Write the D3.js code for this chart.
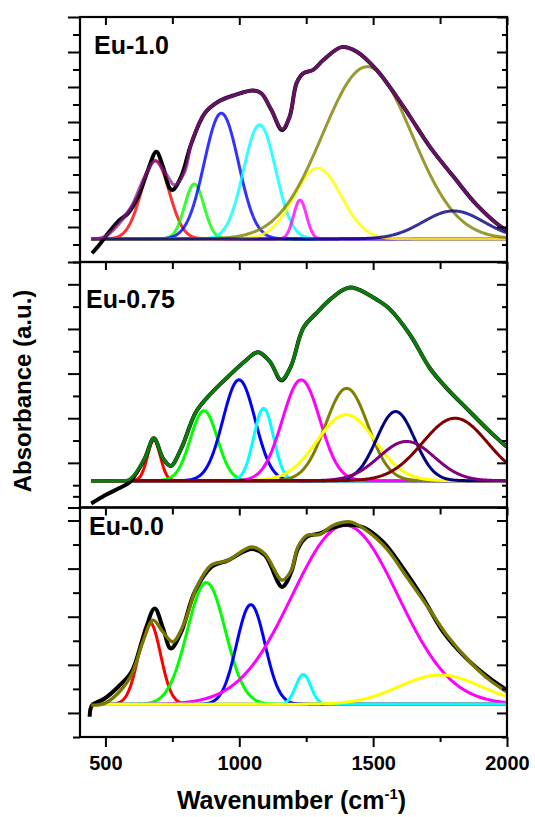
<!DOCTYPE html>
<html>
<head>
<meta charset="utf-8">
<script src="https://cdn.jsdelivr.net/npm/d3@7"></script>
<style>
  html, body { margin: 0; padding: 0; background: #ffffff; }
  svg { display: block; font-family: "Liberation Sans", Arial, Helvetica, sans-serif; }
</style>
</head>
<body>
<svg id="chart" width="535" height="817"></svg>
<script>
// ---------- shared x axis ----------
const wavenumberRange = [405, 2000];
const xMajorTicks = [500, 1000, 1500, 2000];
const xMinorTicks = [750, 1250, 1750];
const sampleLabels = ["Eu-1.0", "Eu-0.75", "Eu-0.0"];
const xTitle = "Wavenumber (cm";
const xTitleSup = "-1";
const yTitle = "Absorbance (a.u.)";

// ---------- Eu-1.0 ----------
const spectrumEu10 = [
  [450, 0.25], [472, 0.44], [510, 0.82], [553, 1.20], [584, 1.39], [622, 1.87],
  [659, 2.63], [690, 3.15], [715, 2.72], [740, 2.11], [752, 2.06], [783, 2.44],
  [821, 3.39], [871, 4.25], [921, 4.58], [983, 4.77], [1051, 4.90], [1082, 4.82],
  [1120, 4.34], [1160, 3.77], [1188, 4.15], [1214, 5.11], [1239, 5.39], [1276, 5.49],
  [1314, 5.77], [1382, 6.14], [1439, 6.01], [1513, 5.49], [1588, 4.72], [1638, 4.15],
  [1712, 3.29], [1800, 2.44], [1887, 1.63], [1986, 0.96], [2000, 0.91]
];
const fitEu10 = [
  [447, 0.66], [497, 0.72], [547, 1.06], [597, 1.58], [647, 2.44], [686, 2.89],
  [721, 2.58], [759, 2.20], [796, 2.58], [821, 3.39], [871, 4.25], [921, 4.58],
  [983, 4.77], [1051, 4.90], [1082, 4.82], [1120, 4.34], [1160, 3.80], [1188, 4.15],
  [1214, 5.11], [1239, 5.39], [1276, 5.49], [1314, 5.77], [1382, 6.14], [1439, 6.01],
  [1513, 5.49], [1588, 4.72], [1638, 4.15], [1712, 3.29], [1800, 2.44], [1887, 1.63],
  [1986, 0.96], [2000, 0.91]
];
const baselineEu10 = 0.66;
const peakCentresEu10 = [686, 832, 933, 1076, 1227, 1293, 1478, 1800];
const peakHeightsEu10 = [2.24, 1.57, 3.59, 3.26, 1.11, 2.02, 4.92, 0.80];
const peakSigmasEu10  = [52, 36, 64, 60, 24, 88, 167, 114];
const yDomainEu10 = [0, 7];
const yMajorEu10 = [0, 1, 2, 3, 4, 5, 6, 7];
const yMinorEu10 = [0.5, 1.5, 2.5, 3.5, 4.5, 5.5, 6.5];

// ---------- Eu-0.75 ----------
const spectrumEu075 = [
  [447, 0.09], [497, 0.27], [547, 0.42], [591, 0.57], [647, 1.10], [681, 1.55],
  [715, 1.10], [744, 0.93], [783, 1.32], [839, 2.15], [895, 2.56], [958, 2.93],
  [1020, 3.27], [1070, 3.48], [1114, 3.27], [1157, 2.85], [1192, 3.15], [1239, 4.02],
  [1289, 4.36], [1339, 4.66], [1389, 4.88], [1414, 4.93], [1439, 4.90], [1513, 4.66],
  [1563, 4.44], [1638, 3.87], [1712, 3.12], [1775, 2.67], [1849, 2.22], [1936, 1.70],
  [1999, 1.36]
];
const fitEu075 = [
  [447, 0.60], [540, 0.60], [590, 0.63], [647, 1.10], [681, 1.55], [715, 1.10],
  [744, 0.93], [783, 1.32], [839, 2.15], [895, 2.56], [958, 2.93], [1020, 3.27],
  [1070, 3.48], [1114, 3.27], [1157, 2.86], [1192, 3.15], [1239, 4.02], [1289, 4.36],
  [1339, 4.66], [1389, 4.88], [1414, 4.93], [1439, 4.90], [1513, 4.66], [1563, 4.44],
  [1638, 3.87], [1712, 3.12], [1775, 2.67], [1849, 2.22], [1936, 1.70], [1999, 1.36]
];
const baselineEu075 = 0.60;
const peakCentresEu075 = [681, 868, 999, 1091, 1231, 1401, 1399, 1584, 1625, 1806];
const peakHeightsEu075 = [0.91, 1.57, 2.26, 1.62, 2.26, 2.07, 1.48, 1.55, 0.88, 1.40];
const peakSigmasEu075  = [24, 50, 60, 37, 70, 79, 108, 71, 103, 122];
const yDomainEu075 = [0, 5.5];
const yMajorEu075 = [0, 1, 2, 3, 4, 5];
const yMinorEu075 = [0.25, 0.5, 1.5, 2.5, 3.5, 4.5, 5.5];

// ---------- Eu-0.0 ----------
const spectrumEu00 = [
  [441, 0.42], [450, 0.66], [497, 0.80], [547, 1.04], [597, 1.35], [640, 2.05],
  [684, 2.67], [715, 2.26], [744, 1.84], [783, 2.18], [833, 3.01], [895, 3.53],
  [958, 3.67], [1045, 3.91], [1095, 3.78], [1160, 3.12], [1194, 3.43], [1219, 3.91],
  [1252, 4.16], [1301, 4.23], [1339, 4.33], [1401, 4.41], [1463, 4.36], [1538, 4.05],
  [1613, 3.50], [1687, 2.88], [1762, 2.18], [1849, 1.63], [1936, 1.22], [1999, 0.98]
];
const fitEu00 = [
  [447, 0.66], [497, 0.70], [547, 0.91], [597, 1.29], [640, 1.98], [678, 2.43],
  [715, 2.18], [752, 1.98], [796, 2.39], [839, 3.09], [895, 3.57], [958, 3.67],
  [1045, 3.95], [1095, 3.81], [1160, 3.26], [1194, 3.46], [1219, 3.95], [1252, 4.19],
  [1301, 4.21], [1351, 4.40], [1414, 4.47], [1476, 4.29], [1551, 3.91], [1625, 3.33],
  [1700, 2.74], [1775, 2.12], [1862, 1.56], [1936, 1.18], [1999, 0.94]
];
const baselineEu00 = 0.68;
const peakCentresEu00 = [665, 877, 1043, 1395, 1239, 1750];
const peakHeightsEu00 = [1.71, 2.53, 2.07, 3.72, 0.62, 0.61];
const peakSigmasEu00  = [41, 71, 53, 198, 28, 153];
const yDomainEu00 = [0, 4.77];
const yMajorEu00 = [0.5, 1.5, 2.5, 3.5, 4.5];
const yMinorEu00 = [0, 1, 2, 3, 4];

// ---------- styles ----------
const peakColoursEu10  = ["#ff0000", "#00ff00", "#0000ff", "#00ffff", "#ff00ff", "#ffff00", "#808000", "#000080"];
const peakColoursEu075 = ["#ff0000", "#00ff00", "#0000ff", "#00ffff", "#ff00ff", "#808000", "#ffff00", "#000080", "#800080", "#800000"];
const peakColoursEu00  = ["#ff0000", "#00ff00", "#0000ff", "#ff00ff", "#00ffff", "#ffff00"];

const panels = [
  { label: sampleLabels[0], spectrum: spectrumEu10, fit: fitEu10, base: baselineEu10,
    centres: peakCentresEu10, heights: peakHeightsEu10, sigmas: peakSigmasEu10, colours: peakColoursEu10,
    yDomain: yDomainEu10, yMajor: yMajorEu10, yMinor: yMinorEu10,
    top: 17, bottom: 262, labelX: 94, labelY: 54,
    peakOpacity: 0.8, fitColour: "#8b1a8b", fitOpacity: 0.72 },
  { label: sampleLabels[1], spectrum: spectrumEu075, fit: fitEu075, base: baselineEu075,
    centres: peakCentresEu075, heights: peakHeightsEu075, sigmas: peakSigmasEu075, colours: peakColoursEu075,
    yDomain: yDomainEu075, yMajor: yMajorEu075, yMinor: yMinorEu075,
    top: 262, bottom: 507.5, labelX: 86, labelY: 308,
    peakOpacity: 1, fitColour: "#0d7a0d", fitOpacity: 1 },
  { label: sampleLabels[2], spectrum: spectrumEu00, fit: fitEu00, base: baselineEu00,
    centres: peakCentresEu00, heights: peakHeightsEu00, sigmas: peakSigmasEu00, colours: peakColoursEu00,
    yDomain: yDomainEu00, yMajor: yMajorEu00, yMinor: yMinorEu00,
    top: 507.5, bottom: 737, labelX: 89, labelY: 535,
    peakOpacity: 1, fitColour: "#787800", fitOpacity: 1 }
];

// ---------- drawing ----------
const svg = d3.select("#chart");
const left = 80, right = 507;
const x = d3.scaleLinear().domain(wavenumberRange).range([left, right]);
const sampleGrid = d3.range(447, 2001, 3);

function gaussianPeak(c, h, s, base) {
  return sampleGrid.map(w => [w, base + h * Math.exp(-0.5 * ((w - c) / s) ** 2)]);
}

function styleAxis(g) {
  g.select(".domain").remove();
  g.selectAll(".tick line").attr("stroke", "#000").attr("stroke-width", 2);
}

panels.forEach((p, i) => {
  const y = d3.scaleLinear().domain(p.yDomain).range([p.bottom, p.top]);
  const line = d3.line().x(d => x(d[0])).y(d => y(d[1]));
  const smooth = d3.line().x(d => x(d[0])).y(d => y(d[1])).curve(d3.curveCatmullRom.alpha(0.5));

  const clipId = "clip" + i;
  svg.append("clipPath").attr("id", clipId)
    .append("rect").attr("x", left).attr("y", p.top).attr("width", right - left).attr("height", p.bottom - p.top);

  const g = svg.append("g").attr("clip-path", `url(#${clipId})`);

  // fitted component peaks
  p.centres.forEach((c, k) => {
    g.append("path")
      .attr("d", line(gaussianPeak(c, p.heights[k], p.sigmas[k], p.base)))
      .attr("fill", "none")
      .attr("stroke", p.colours[k])
      .attr("stroke-opacity", p.peakOpacity)
      .attr("stroke-width", 3)
      .attr("stroke-linejoin", "round");
  });

  // measured spectrum
  g.append("path")
    .attr("d", smooth(p.spectrum))
    .attr("fill", "none")
    .attr("stroke", "#000")
    .attr("stroke-width", 4)
    .attr("stroke-linejoin", "round");

  // cumulative fit
  g.append("path")
    .attr("d", smooth(p.fit))
    .attr("fill", "none")
    .attr("stroke", p.fitColour)
    .attr("stroke-opacity", p.fitOpacity)
    .attr("stroke-width", 3.4)
    .attr("stroke-linejoin", "round");

  // y ticks: left outward, right inward
  svg.append("g").attr("transform", `translate(${left},0)`)
    .call(d3.axisLeft(y).tickValues(p.yMajor).tickSize(12).tickFormat("")).call(styleAxis);
  svg.append("g").attr("transform", `translate(${left},0)`)
    .call(d3.axisLeft(y).tickValues(p.yMinor).tickSize(7).tickFormat("")).call(styleAxis);
  svg.append("g").attr("transform", `translate(${right},0)`)
    .call(d3.axisLeft(y).tickValues(p.yMajor).tickSize(10).tickFormat("")).call(styleAxis);
  svg.append("g").attr("transform", `translate(${right},0)`)
    .call(d3.axisLeft(y).tickValues(p.yMinor).tickSize(5).tickFormat("")).call(styleAxis);

  // x ticks along the top edge, pointing inward
  svg.append("g").attr("transform", `translate(0,${p.top})`)
    .call(d3.axisBottom(x).tickValues(xMajorTicks).tickSize(8).tickFormat("")).call(styleAxis);
  svg.append("g").attr("transform", `translate(0,${p.top})`)
    .call(d3.axisBottom(x).tickValues(xMinorTicks).tickSize(7).tickFormat("")).call(styleAxis);

  // frame
  svg.append("rect")
    .attr("x", left).attr("y", p.top).attr("width", right - left).attr("height", p.bottom - p.top)
    .attr("fill", "none").attr("stroke", "#000").attr("stroke-width", 2.2);

  // sample label
  svg.append("text")
    .attr("x", p.labelX).attr("y", p.labelY)
    .attr("font-size", 25).attr("font-weight", "bold")
    .text(p.label);
});

// bottom x axis with labels
const last = panels[panels.length - 1];
const xAxisG = svg.append("g").attr("transform", `translate(0,${last.bottom})`)
  .call(d3.axisBottom(x).tickValues(xMajorTicks).tickSize(10).tickPadding(9).tickFormat(d3.format("d")));
xAxisG.call(styleAxis);
xAxisG.selectAll("text")
  .attr("font-size", 20).attr("font-weight", "bold").attr("fill", "#000")
  .attr("font-family", "Liberation Sans, Arial, sans-serif");
svg.append("g").attr("transform", `translate(0,${last.bottom})`)
  .call(d3.axisBottom(x).tickValues(xMinorTicks).tickSize(5).tickFormat("")).call(styleAxis);

// axis titles
const xt = svg.append("text")
  .attr("x", (left + right) / 2 - 2).attr("y", 809)
  .attr("text-anchor", "middle").attr("font-size", 25).attr("font-weight", "bold");
xt.append("tspan").text(xTitle);
xt.append("tspan").attr("font-size", 15).attr("dy", -10).text(xTitleSup);
xt.append("tspan").attr("dy", 10).text(")");

svg.append("text")
  .attr("transform", "translate(31,391) rotate(-90)")
  .attr("text-anchor", "middle").attr("font-size", 24).attr("font-weight", "bold")
  .text(yTitle);
</script>
</body>
</html>
